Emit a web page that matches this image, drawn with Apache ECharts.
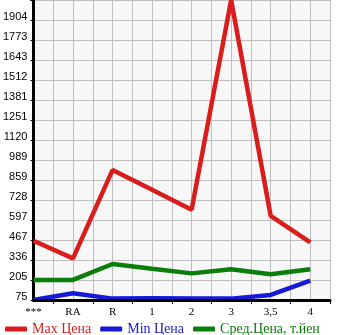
<!DOCTYPE html>
<html><head><meta charset="utf-8">
<script src="https://cdn.jsdelivr.net/npm/echarts@6/dist/echarts.min.js"></script>
<style>html,body{margin:0;padding:0;background:#fff}#c{width:345px;height:335px}</style>
</head><body><div id="c"></div>
<script>
var categories = ['***', 'RA', 'R', '1', '2', '3', '3,5', '4'];
var maxPrice = [462, 347, 924, 795, 665, 2035, 624, 452];
var minPrice = [75, 119, 84, 86, 84, 84, 108, 201];
var avgPrice = [206, 206, 310, 279, 249, 276, 243, 276];
var yTickLabels = ['75','205','336','467','597','728','859','989','1120','1251','1381','1512','1643','1773','1904','2035'];
var seriesNames = ['Max Цена', 'Min Цена', 'Сред.Цена, т.йен'];

var Y0 = 75, Y1 = 2035, NSTEP = 15, STEP = (Y1 - Y0) / NSTEP;
function toPts(arr){ return arr.map(function(v,i){ return [i, (v - Y0) / STEP]; }); }

var chart = echarts.init(document.getElementById('c'));
var colors = ['#d91c1c', '#1818d8', '#0a7d0a'];
var serif = '"Liberation Serif", "DejaVu Serif", serif';
chart.setOption({
  animation: false,
  grid: { left: 30, right: 15, top: 0, bottom: 35, show: true, backgroundColor: '#f7f7f7', borderWidth: 0 },
  xAxis: [{
    type: 'value', min: 0, max: 7.5, interval: 0.5,
    axisLine: { show: true, onZero: false, lineStyle: { color: '#000', width: 3 } },
    axisTick: { show: true, customValues: [0.5,1.5,2.5,3.5,4.5,5.5,6.5,7.5], length: 4, lineStyle: { color: '#000', width: 1 } },
    axisLabel: { customValues: [0,1,2,3,4,5,6,7], formatter: function(v){ return categories[Math.round(v)]; },
      color: '#000', fontFamily: serif, fontSize: 11, margin: 7 },
    splitLine: { show: false }, z: 5
  }, {
    type: 'value', min: 0, max: 7.5, interval: 0.5, position: 'bottom',
    axisLine: { show: false }, axisTick: { show: false }, axisLabel: { show: false },
    splitLine: { show: true, lineStyle: { color: '#bfbfbf', width: 1 } }
  }],
  yAxis: {
    type: 'value', min: 0, max: NSTEP + 0.0001, interval: 1,
    axisLine: { show: true, lineStyle: { color: '#000', width: 3 } },
    axisTick: { show: true, length: 3, lineStyle: { color: '#000' } },
    axisLabel: { formatter: function(v){ return v >= NSTEP ? '' : yTickLabels[Math.round(v)]; }, color: '#000',
      fontFamily: '"Liberation Sans", Arial, sans-serif', fontSize: 11, margin: 6,
      verticalAlign: 'bottom', lineHeight: 6 },
    splitLine: { show: true, lineStyle: { color: '#bfbfbf', width: 1 } }
  },
  legend: {
    left: 0, top: 317, itemWidth: 22, itemHeight: 5, itemGap: 9, icon: 'roundRect',
    textStyle: { fontFamily: serif, fontSize: 14 },
    data: seriesNames.map(function(n,i){ return { name: n, textStyle: { color: colors[i] } }; })
  },
  series: [
    { name: seriesNames[0], type: 'line', data: toPts(maxPrice), color: colors[0], symbol: 'none', lineStyle: { width: 4.5 }, z: 3 },
    { name: seriesNames[1], type: 'line', data: toPts(minPrice), color: colors[1], symbol: 'none', lineStyle: { width: 4.5 }, z: 2 },
    { name: seriesNames[2], type: 'line', data: toPts(avgPrice), color: colors[2], symbol: 'none', lineStyle: { width: 4.5 }, z: 2 }
  ]
});
</script></body></html>
